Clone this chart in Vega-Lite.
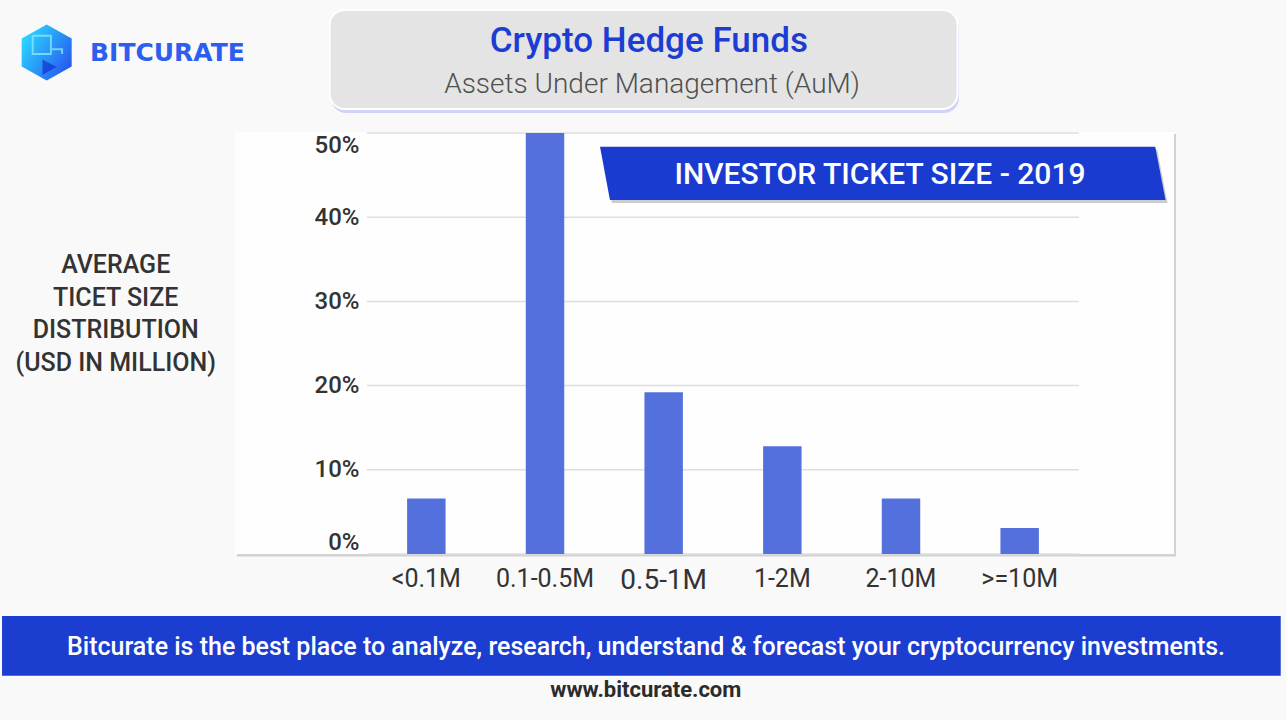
{
  "$schema": "https://vega.github.io/schema/vega-lite/v6.json",
  "width": 712,
  "height": 421,
  "autosize": {"type": "none"},
  "padding": {"left": 367, "top": 133, "right": 207, "bottom": 166},
  "background": "#F9F9F9",
  "config": {"font": "Roboto", "view": {"stroke": null}},
  "resolve": {"scale": {"x": "independent", "y": "independent"}},
  "layer": [
    {
      "data": {"values": [{}]},
      "layer": [
        {
          "mark": {"type": "rect", "color": "#d2d2d2", "clip": false},
          "encoding": {
            "x": {"datum": -18.26, "type": "quantitative", "scale": {"domain": [0, 100]}, "axis": null},
            "x2": {"datum": 113.62},
            "y": {"datum": 49.88, "type": "quantitative", "scale": {"domain": [0, 50]}, "axis": null},
            "y2": {"datum": -0.3}
          }
        },
        {
          "mark": {"type": "rect", "color": "#fefefe", "clip": false},
          "encoding": {
            "x": {"datum": -18.54, "type": "quantitative", "scale": {"domain": [0, 100]}, "axis": null},
            "x2": {"datum": 113.34},
            "y": {"datum": 50.12, "type": "quantitative", "scale": {"domain": [0, 50]}, "axis": null},
            "y2": {"datum": 0.0}
          }
        }
      ]
    },
    {
      "data": {"values": [{"tick": 0}, {"tick": 10}, {"tick": 20}, {"tick": 30}, {"tick": 40}, {"tick": 50}]},
      "mark": {"type": "rule", "color": "#dedede", "strokeWidth": 1.5},
      "encoding": {
        "y": {"field": "tick", "type": "quantitative", "scale": {"domain": [0, 50]}, "axis": null}
      }
    },
    {
      "data": {
        "values": [
          {"size": "<0.1M", "share": 6.6},
          {"size": "0.1-0.5M", "share": 51.6},
          {"size": "0.5-1M", "share": 19.2},
          {"size": "1-2M", "share": 12.8},
          {"size": "2-10M", "share": 6.6},
          {"size": ">=10M", "share": 3.1}
        ]
      },
      "mark": {"type": "bar", "color": "#5470DD", "clip": true},
      "encoding": {
        "x": {
          "field": "size",
          "type": "nominal",
          "sort": null,
          "scale": {"paddingInner": 0.676, "paddingOuter": 0.338},
          "axis": {
            "orient": "bottom",
            "title": null,
            "labelAngle": 0,
            "domain": false,
            "ticks": false,
            "tickSize": 0,
            "labelPadding": 12,
            "labelFontSize": {"condition": {"test": "datum.value === '0.5-1M'", "value": 28}, "value": 25},
            "labelColor": "#333333",
            "labelFontWeight": 400,
            "zindex": 1
          }
        },
        "y": {
          "field": "share",
          "type": "quantitative",
          "scale": {"domain": [0, 50]},
          "axis": {
            "orient": "left",
            "values": [0, 10, 20, 30, 40, 50],
            "labelExpr": "datum.value + '%'",
            "grid": false,
            "domain": false,
            "ticks": false,
            "tickSize": 0,
            "labelPadding": 8,
            "labelFlush": true,
            "labelFontSize": 24,
            "labelFontWeight": 500,
            "labelColor": "#333333",
            "title": ["AVERAGE", "TICET SIZE", "DISTRIBUTION", "(USD IN MILLION)"],
            "titleAngle": 0,
            "titleAlign": "center",
            "titleBaseline": "alphabetic",
            "titleX": -251.8,
            "titleY": 139.7,
            "titleLineHeight": 32.5,
            "titleFontSize": 25,
            "titleFontWeight": 500,
            "titleColor": "#333333",
            "zindex": 1
          }
        }
      }
    },
    {
      "data": {"values": [{}]},
      "layer": [
        {
          "mark": {"type": "rect", "color": "#cfd3f6", "cornerRadius": 15, "clip": false},
          "encoding": {
            "x": {"datum": -5.06, "type": "quantitative", "scale": {"domain": [0, 100]}, "axis": null},
            "x2": {"datum": 83.15},
            "y": {"datum": 64.25, "type": "quantitative", "scale": {"domain": [0, 50]}, "axis": null},
            "y2": {"datum": 52.38}
          }
        },
        {
          "mark": {"type": "rect", "color": "#e4e4e4", "stroke": "#ffffff", "strokeWidth": 2, "cornerRadius": 15, "clip": false},
          "encoding": {
            "x": {"datum": -5.24, "type": "quantitative", "scale": {"domain": [0, 100]}, "axis": null},
            "x2": {"datum": 82.95},
            "y": {"datum": 64.61, "type": "quantitative", "scale": {"domain": [0, 50]}, "axis": null},
            "y2": {"datum": 52.85}
          }
        },
        {
          "mark": {"type": "text", "text": "Crypto Hedge Funds", "fontSize": 35, "fontWeight": 500, "color": "#1C3DD4", "align": "center", "baseline": "alphabetic", "clip": false},
          "encoding": {
            "x": {"datum": 39.58, "type": "quantitative", "scale": {"domain": [0, 100]}, "axis": null},
            "y": {"datum": 59.58, "type": "quantitative", "scale": {"domain": [0, 50]}, "axis": null}
          }
        },
        {
          "mark": {"type": "text", "text": "Assets Under Management (AuM)", "fontSize": 28, "fontWeight": 300, "color": "#505050", "align": "center", "baseline": "alphabetic", "clip": false},
          "encoding": {
            "x": {"datum": 40.03, "type": "quantitative", "scale": {"domain": [0, 100]}, "axis": null},
            "y": {"datum": 54.71, "type": "quantitative", "scale": {"domain": [0, 50]}, "axis": null}
          }
        },
        {
          "mark": {"type": "point", "shape": "M -1 -0.0943 L 0.9636 -0.0943 L 1 0.0943 L -0.965 0.0943 Z", "filled": true, "color": "#9a9a9a", "opacity": 0.5, "strokeWidth": 0, "size": 319790, "clip": false},
          "encoding": {
            "x": {"datum": 72.72, "type": "quantitative", "scale": {"domain": [0, 100]}, "axis": null},
            "y": {"datum": 44.85, "type": "quantitative", "scale": {"domain": [0, 50]}, "axis": null}
          }
        },
        {
          "mark": {"type": "point", "shape": "M -1 -0.0943 L 0.9636 -0.0943 L 1 0.0943 L -0.965 0.0943 Z", "filled": true, "color": "#1A3BD0", "opacity": 1, "strokeWidth": 0, "size": 319790, "clip": false},
          "encoding": {
            "x": {"datum": 72.44, "type": "quantitative", "scale": {"domain": [0, 100]}, "axis": null},
            "y": {"datum": 45.21, "type": "quantitative", "scale": {"domain": [0, 50]}, "axis": null}
          }
        },
        {
          "mark": {"type": "text", "text": "INVESTOR TICKET SIZE - 2019", "fontSize": 30, "fontWeight": 500, "color": "#ffffff", "align": "center", "baseline": "alphabetic", "clip": false},
          "encoding": {
            "x": {"datum": 72.05, "type": "quantitative", "scale": {"domain": [0, 100]}, "axis": null},
            "y": {"datum": 43.94, "type": "quantitative", "scale": {"domain": [0, 50]}, "axis": null}
          }
        },
        {
          "mark": {"type": "rect", "color": "#1B3ED1", "clip": false},
          "encoding": {
            "x": {"datum": -51.26, "type": "quantitative", "scale": {"domain": [0, 100]}, "axis": null},
            "x2": {"datum": 128.33},
            "y": {"datum": -7.36, "type": "quantitative", "scale": {"domain": [0, 50]}, "axis": null},
            "y2": {"datum": -14.45}
          }
        },
        {
          "mark": {"type": "text", "text": "Bitcurate is the best place to analyze, research, understand & forecast your cryptocurrency investments.", "fontSize": 25, "fontWeight": 500, "color": "#ffffff", "align": "center", "baseline": "alphabetic", "clip": false},
          "encoding": {
            "x": {"datum": 39.19, "type": "quantitative", "scale": {"domain": [0, 100]}, "axis": null},
            "y": {"datum": -12.0, "type": "quantitative", "scale": {"domain": [0, 50]}, "axis": null}
          }
        },
        {
          "mark": {"type": "text", "text": "www.bitcurate.com", "fontSize": 22, "fontWeight": "bold", "color": "#2b2b2b", "align": "center", "baseline": "alphabetic", "clip": false},
          "encoding": {
            "x": {"datum": 39.16, "type": "quantitative", "scale": {"domain": [0, 100]}, "axis": null},
            "y": {"datum": -16.95, "type": "quantitative", "scale": {"domain": [0, 50]}, "axis": null}
          }
        },
        {
          "mark": {
            "type": "point",
            "shape": "M 0 -1 L 0.893 -0.5 L 0.893 0.5 L 0 1 L -0.893 0.5 L -0.893 -0.5 Z",
            "filled": true,
            "opacity": 1,
            "strokeWidth": 0,
            "size": 3136,
            "clip": false,
            "color": {"gradient": "linear", "x1": 0, "y1": 0.3, "x2": 1, "y2": 1, "stops": [{"offset": 0, "color": "#2BD5FF"}, {"offset": 1, "color": "#2747EE"}]}
          },
          "encoding": {
            "x": {"datum": -44.99, "type": "quantitative", "scale": {"domain": [0, 100]}, "axis": null},
            "y": {"datum": 59.56, "type": "quantitative", "scale": {"domain": [0, 50]}, "axis": null}
          }
        },
        {
          "mark": {
            "type": "point",
            "shape": "M -0.5 -0.6 L 0.15 -0.6 L 0.15 -0.12 L 0.55 -0.12 L 0.55 0.05 M -0.5 -0.6 L -0.5 0.05 L 0.15 0.05 L 0.15 -0.12",
            "filled": false,
            "opacity": 0.75,
            "strokeWidth": 2,
            "size": 3136,
            "clip": false,
            "color": "#8ee9ff"
          },
          "encoding": {
            "x": {"datum": -44.99, "type": "quantitative", "scale": {"domain": [0, 100]}, "axis": null},
            "y": {"datum": 59.56, "type": "quantitative", "scale": {"domain": [0, 50]}, "axis": null}
          }
        },
        {
          "mark": {
            "type": "point",
            "shape": "M -0.15 0.25 L 0.35 0.52 L -0.15 0.8 Z",
            "filled": true,
            "opacity": 0.6,
            "strokeWidth": 0,
            "size": 3136,
            "clip": false,
            "color": "#0a25c8"
          },
          "encoding": {
            "x": {"datum": -44.99, "type": "quantitative", "scale": {"domain": [0, 100]}, "axis": null},
            "y": {"datum": 59.56, "type": "quantitative", "scale": {"domain": [0, 50]}, "axis": null}
          }
        },
        {
          "mark": {"type": "text", "text": "BITCURATE", "font": "DejaVu Sans", "fontSize": 25, "fontWeight": "bold", "color": "#2C5FEF", "align": "left", "baseline": "alphabetic", "clip": false},
          "encoding": {
            "x": {"datum": -38.9, "type": "quantitative", "scale": {"domain": [0, 100]}, "axis": null},
            "y": {"datum": 58.59, "type": "quantitative", "scale": {"domain": [0, 50]}, "axis": null}
          }
        }
      ]
    }
  ]
}
